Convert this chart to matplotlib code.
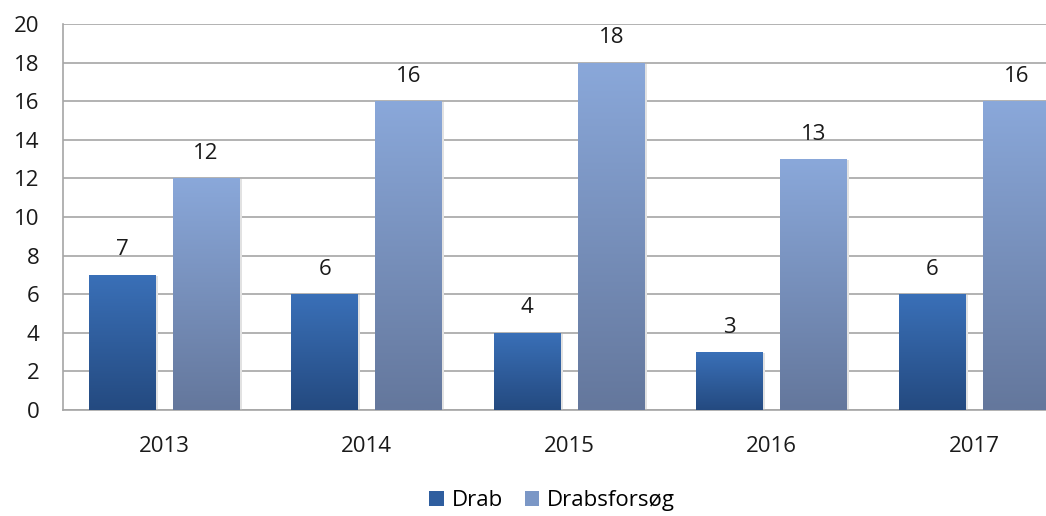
import numpy as np
import matplotlib
matplotlib.use("Agg")
import matplotlib.pyplot as plt
from matplotlib.colors import LinearSegmentedColormap
from matplotlib.patches import Patch

# ------ data ------
years = ["2013", "2014", "2015", "2016", "2017"]
drab = [7, 6, 4, 3, 6]
drabsforsoeg = [12, 16, 18, 13, 16]
series_names = ["Drab", "Drabsforsøg"]

# ------ style ------
plt.rcParams['font.family'] = ['Open Sans', 'DejaVu Sans']
grid_col = "#A6A6A6"
cm_drab = LinearSegmentedColormap.from_list("drab", ["#244A80", "#3A70B8"])
cm_fors = LinearSegmentedColormap.from_list("fors", ["#64779C", "#8AA8DA"])

fig = plt.figure(figsize=(10.46, 5.16), dpi=100)
ax = fig.add_axes([0.0602, 0.2054, 0.9398, 0.7481])

x = np.arange(len(years))
w = 0.33
off = 0.207

grad = np.linspace(0, 1, 256).reshape(-1, 1)


def gradient_bars(xs, vals, cmap):
    bars = ax.bar(xs, vals, width=w, color="none", edgecolor="none", zorder=3)
    for b in bars:
        x0, y0 = b.get_x(), b.get_y()
        x1, y1 = x0 + b.get_width(), y0 + b.get_height()
        # soft shadow
        ax.bar(x0 + b.get_width() / 2 + 0.01, b.get_height(), width=w,
               bottom=-0.05, color="#E2E2E2", edgecolor="none", zorder=2.5)
        im = ax.imshow(grad, extent=[x0, x1, y0, y1], origin="lower",
                       cmap=cmap, aspect="auto", zorder=3)
        im.set_clip_path(b)
    return bars


b1 = gradient_bars(x - off, drab, cm_drab)
b2 = gradient_bars(x + off, drabsforsoeg, cm_fors)

for xs, vals in ((x - off, drab), (x + off, drabsforsoeg)):
    for xi, v in zip(xs, vals):
        ax.text(xi, v + 0.75, str(v), ha="center", va="bottom",
                fontsize=16, color="#1A1A1A", zorder=4)

ax.set_xlim(-0.5, 4.354)
ax.set_ylim(0, 20)
ax.set_yticks(range(0, 21, 2))
ax.set_xticks(x)
ax.set_xticklabels(years)
ax.yaxis.grid(True, color=grid_col, linewidth=1.2, zorder=0)
ax.set_axisbelow(True)
for s in ["top", "right"]:
    ax.spines[s].set_visible(False)
for s in ["left", "bottom"]:
    ax.spines[s].set_color(grid_col)
    ax.spines[s].set_linewidth(1.2)
ax.tick_params(axis="both", length=0, labelsize=16, colors="#1A1A1A")
ax.tick_params(axis="y", pad=17)
ax.tick_params(axis="x", pad=19)

handles = [Patch(facecolor="#2F5E9F"), Patch(facecolor="#7B97C6")]
fig.legend(handles, series_names, loc="lower center", bbox_to_anchor=(0.528, -0.03),
           ncol=2, frameon=False, fontsize=16, handlelength=0.65, handleheight=0.65,
           handletextpad=0.35, columnspacing=1.0)

fig.savefig("out.png", dpi=100)
